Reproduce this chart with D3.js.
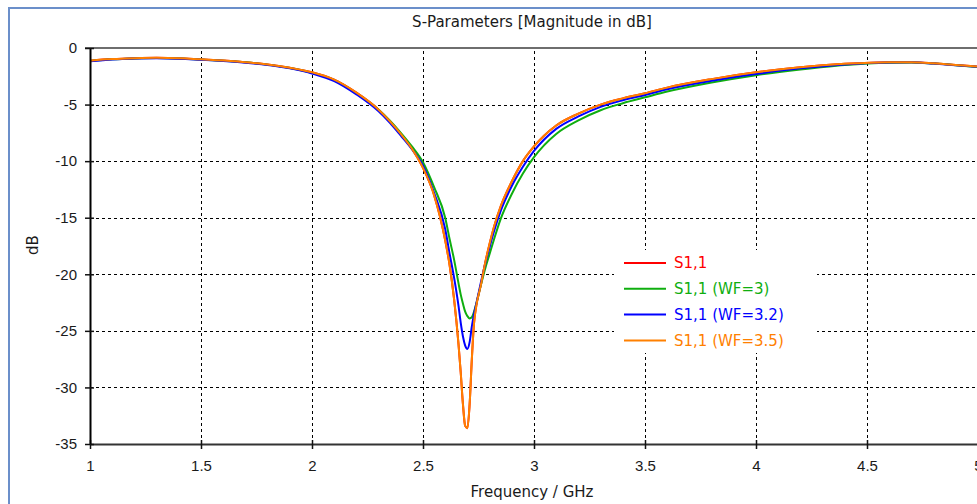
<!DOCTYPE html>
<html>
<head>
<meta charset="utf-8">
<script src="https://cdn.jsdelivr.net/npm/d3@7"></script>
<style>
	body { margin: 0; background: #fff; }
	svg { display: block; font-family: Tahoma, Verdana, "DejaVu Sans", sans-serif; }
	.tick text { font-size: 15px; fill: #1a1a1a; }
	.grid line { stroke: #000; stroke-width: 1; stroke-dasharray: 3,3; shape-rendering: crispEdges; }
	.legend-text { font-size: 15px; }
</style>
</head>
<body>
<div id="chart"></div>
<script>

// frequency samples (GHz), denser around the resonance
const freq = [1.0, 1.1, 1.2, 1.3, 1.4, 1.5, 1.6, 1.7, 1.8, 1.9, 2.0, 2.1, 2.2, 2.3, 2.35, 2.4, 2.45, 2.5, 2.55,
	2.6, 2.62, 2.64, 2.66, 2.67, 2.68, 2.69, 2.7, 2.71, 2.72, 2.73, 2.74, 2.76, 2.78, 2.8, 2.82, 2.85, 2.9, 2.95,
	3.0, 3.1, 3.2, 3.3, 3.4, 3.5, 3.6, 3.8, 4.0, 4.2, 4.4, 4.6, 4.7, 4.8, 4.9, 5.0];

// |S1,1| in dB
const s11 = [-1.12, -0.98, -0.9, -0.86, -0.9, -1.0, -1.1, -1.25, -1.45, -1.75, -2.15, -2.8, -3.95, -5.45, -6.45, -7.6, -8.9, -10.6, -13.0,
	-17.0, -19.2, -22.2, -26.2, -28.7, -31.5, -33.4, -33.6, -31.5, -27.5, -24.3, -22.8, -21.0, -19.0, -17.3, -15.8, -14.0, -11.8, -10.0,
	-8.7, -6.85, -5.8, -5.0, -4.45, -4.0, -3.5, -2.75, -2.15, -1.7, -1.4, -1.25, -1.25, -1.35, -1.5, -1.65];

const s11_wf3 = [-1.15, -1.0, -0.92, -0.88, -0.92, -1.02, -1.12, -1.27, -1.47, -1.77, -2.2, -2.85, -4.0, -5.45, -6.4, -7.5, -8.7, -10.1, -12.3,
	-15.0, -16.9, -18.7, -20.8, -21.8, -22.6, -23.3, -23.7, -23.9, -23.8, -23.3, -22.6, -21.0, -19.5, -18.2, -16.9, -15.1, -12.9, -11.1,
	-9.65, -7.6, -6.4, -5.5, -4.88, -4.36, -3.85, -3.05, -2.4, -1.9, -1.5, -1.3, -1.28, -1.38, -1.52, -1.68];

const s11_wf32 = [-1.18, -1.02, -0.93, -0.9, -0.94, -1.04, -1.15, -1.3, -1.5, -1.8, -2.25, -2.92, -4.1, -5.6, -6.6, -7.75, -8.95, -10.4, -12.8,
	-16.0, -18.2, -20.3, -22.8, -24.3, -25.5, -26.3, -26.6, -26.0, -24.6, -23.5, -22.6, -20.8, -19.1, -17.6, -16.2, -14.4, -12.2, -10.5,
	-9.1, -7.15, -6.05, -5.2, -4.62, -4.15, -3.65, -2.9, -2.3, -1.8, -1.45, -1.28, -1.27, -1.38, -1.52, -1.67];

const s11_wf35 = [-1.12, -0.98, -0.9, -0.86, -0.9, -1.0, -1.1, -1.25, -1.45, -1.75, -2.15, -2.8, -3.95, -5.45, -6.45, -7.6, -8.9, -10.6, -13.0,
	-17.0, -19.2, -22.2, -26.2, -28.7, -31.5, -33.4, -33.6, -31.5, -27.5, -24.3, -22.8, -21.0, -19.0, -17.3, -15.8, -14.0, -11.8, -10.0,
	-8.7, -6.85, -5.8, -5.0, -4.45, -4.0, -3.5, -2.75, -2.15, -1.7, -1.4, -1.25, -1.25, -1.35, -1.5, -1.65];

const seriesNames = ["S1,1", "S1,1 (WF=3)", "S1,1 (WF=3.2)", "S1,1 (WF=3.5)"];
const seriesColors = ["#ff0000", "#0fae0f", "#0000ff", "#ff8000"];

const xTicks = [1, 1.5, 2, 2.5, 3, 3.5, 4, 4.5, 5];
const yTicks = [0, -5, -10, -15, -20, -25, -30, -35];


function visualize(container){

	const width = 977, height = 504;
	const plot = {left: 90, right: 978, top: 48, bottom: 444};

	const svg = d3.select(container)
		.append("svg")
		.attr("width", width)
		.attr("height", height);

	/*-----Frame-----*/
	svg.append("rect")
		.attr("x", 9).attr("y", 8)
		.attr("width", width + 10).attr("height", height + 10)
		.attr("fill", "#fff")
		.attr("stroke", "#6b8fca")
		.attr("stroke-width", 2);

	/*-----Scales-----*/
	var x = d3.scaleLinear()
		.domain([1, 5])
		.range([plot.left, plot.right]);

	var y = d3.scaleLinear()
		.domain([-35, 0])
		.range([plot.bottom, plot.top]);

	/*-----Grid-----*/
	svg.append("g")
		.attr("class", "grid")
		.attr("transform", "translate(0," + plot.bottom + ")")
		.call(d3.axisBottom(x).tickValues(xTicks.slice(1, -1)).tickSize(-(plot.bottom - plot.top)).tickFormat(""))
		.call(g => g.select(".domain").remove());

	svg.append("g")
		.attr("class", "grid")
		.attr("transform", "translate(" + plot.left + ",0)")
		.call(d3.axisLeft(y).tickValues(yTicks.slice(1, -1)).tickSize(-(plot.right - plot.left)).tickFormat(""))
		.call(g => g.select(".domain").remove());

	/*-----Curves-----*/
	svg.append("clipPath").attr("id", "plotClip")
		.append("rect")
		.attr("x", plot.left).attr("y", plot.top)
		.attr("width", plot.right - plot.left).attr("height", plot.bottom - plot.top);

	const allSeries = [s11, s11_wf3, s11_wf32, s11_wf35];

	var line = d3.line()
		.x(d => x(d[0]))
		.y(d => y(d[1]))
		.curve(d3.curveMonotoneX);

	svg.append("g")
		.attr("clip-path", "url(#plotClip)")
		.selectAll("path")
		.data(allSeries)
		.enter().append("path")
		.attr("d", vals => line(freq.map((f, i) => [f, vals[i]])))
		.attr("fill", "none")
		.attr("stroke", (_, i) => seriesColors[i])
		.attr("stroke-width", 2)
		.attr("stroke-linejoin", "round");

	/*-----Axes-----*/
	// top border of plot
	svg.append("line")
		.attr("x1", plot.left - 5).attr("x2", width)
		.attr("y1", plot.top).attr("y2", plot.top)
		.attr("stroke", "#6e6e6e").attr("stroke-width", 2);

	var xAxis = svg.append("g")
		.attr("transform", "translate(0," + plot.bottom + ")")
		.call(d3.axisBottom(x).tickValues(xTicks).tickSize(5).tickSizeOuter(0).tickPadding(11).tickFormat(d => String(d)));
	xAxis.select(".domain").attr("stroke", "#333").attr("stroke-width", 2);
	xAxis.selectAll(".tick line").attr("stroke", "#111").attr("stroke-width", 1.5).attr("y1", -4);

	var yAxis = svg.append("g")
		.attr("transform", "translate(" + plot.left + ",0)")
		.call(d3.axisLeft(y).tickValues(yTicks).tickSize(5).tickSizeOuter(0).tickPadding(8).tickFormat(d => String(d)));
	yAxis.select(".domain").attr("stroke", "#000").attr("stroke-width", 2);
	yAxis.selectAll(".tick line").attr("stroke", "#111").attr("stroke-width", 1.5).attr("x1", 4);

	/*-----Titles-----*/
	svg.append("text")
		.attr("x", 532).attr("y", 27)
		.attr("text-anchor", "middle")
		.style("font-size", "15px").attr("fill", "#1a1a1a")
		.text("S-Parameters [Magnitude in dB]");

	svg.append("text")
		.attr("x", 532).attr("y", 497)
		.attr("text-anchor", "middle")
		.style("font-size", "15px").attr("fill", "#1a1a1a")
		.text("Frequency / GHz");

	svg.append("text")
		.attr("transform", "translate(38,245) rotate(-90)")
		.attr("text-anchor", "middle")
		.style("font-size", "15px").attr("fill", "#1a1a1a")
		.text("dB");

	/*-----Legend-----*/
	const legend = svg.append("g").attr("transform", "translate(614,250)");
	legend.append("rect")
		.attr("width", 203).attr("height", 103)
		.attr("fill", "#fff");

	var items = legend.selectAll("g.item")
		.data(seriesNames)
		.enter().append("g")
		.attr("class", "item")
		.attr("transform", (d, i) => "translate(0," + (13 + i * 25.8) + ")");

	items.append("line")
		.attr("x1", 10).attr("x2", 52)
		.attr("stroke", (_, i) => seriesColors[i])
		.attr("stroke-width", 2);

	items.append("text")
		.attr("class", "legend-text")
		.attr("x", 60).attr("dy", "0.35em")
		.attr("fill", (_, i) => seriesColors[i])
		.text(d => d);
}

visualize("#chart");
</script>
</body>
</html>
